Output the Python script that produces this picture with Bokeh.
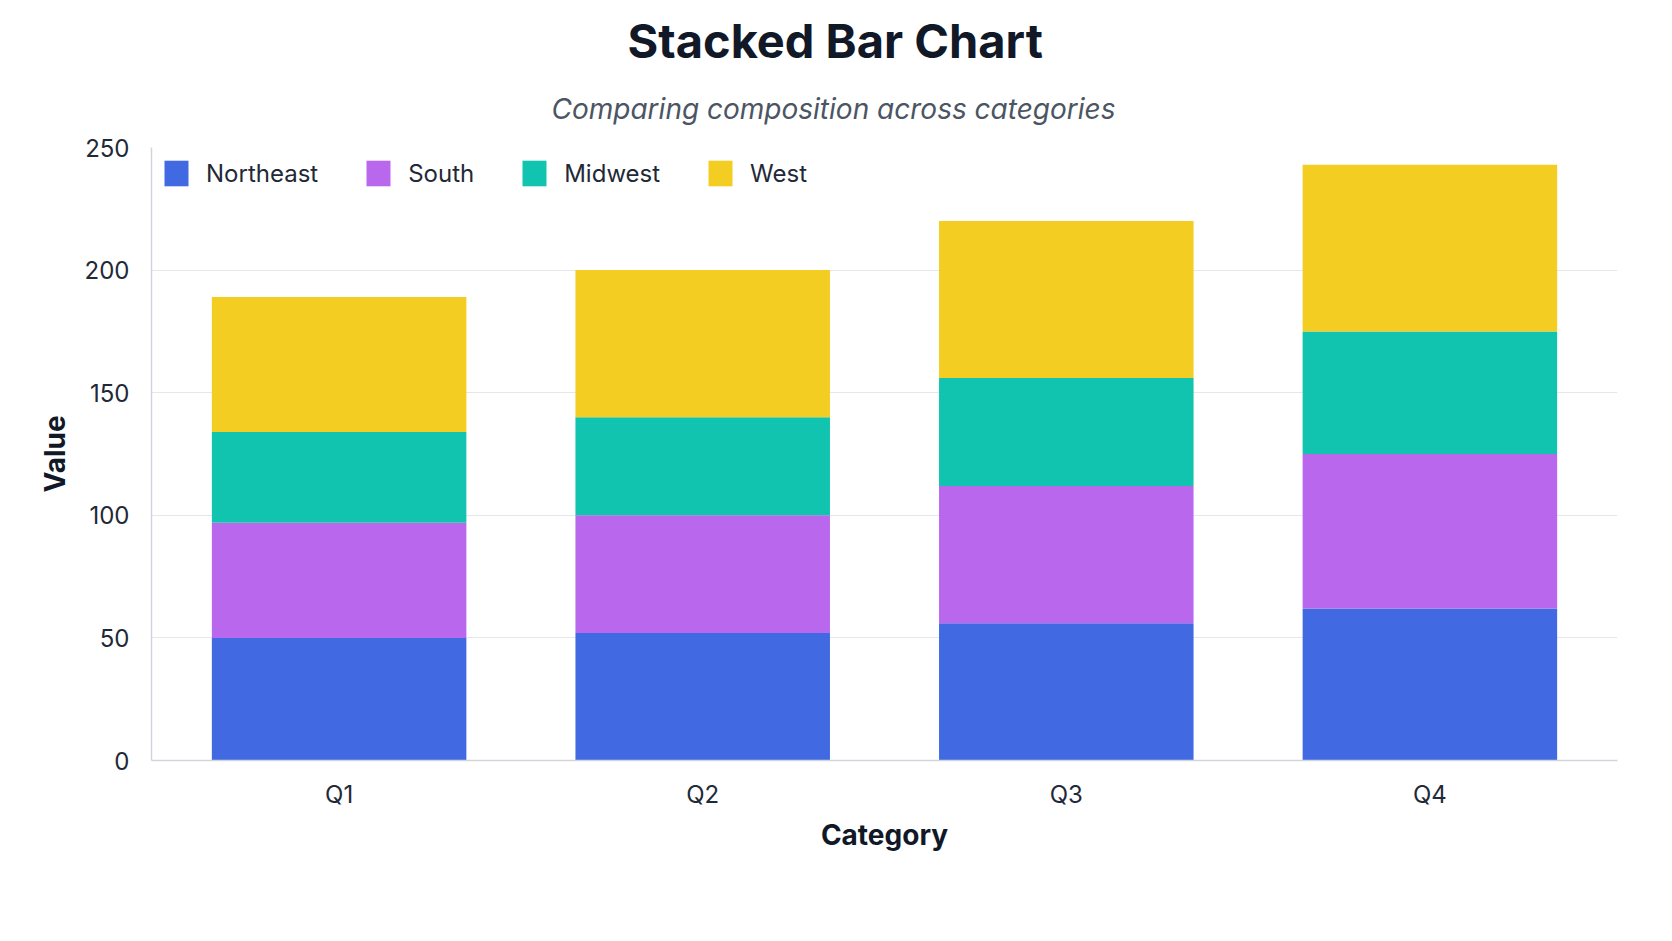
from bokeh.plotting import figure
from bokeh.models import Title, Legend, LegendItem, Range1d, FactorRange
from bokeh.embed import file_html
from bokeh.resources import INLINE

# Quarterly values per region (stacked bottom to top)
categories = ["Q1", "Q2", "Q3", "Q4"]
regions = ["Northeast", "South", "Midwest", "West"]
northeast = [50, 52, 56, 62]
south = [47, 48, 56, 63]
midwest = [37, 40, 44, 50]
west = [55, 60, 64, 68]
colors = ["#4169E1", "#B968EE", "#10C4B0", "#F4CD22"]

FONT = "Inter"
TEXT_DARK = "#111827"

data = {
    "cat": categories,
    "Northeast": northeast,
    "South": south,
    "Midwest": midwest,
    "West": west,
}

p = figure(
    x_range=FactorRange(*categories, range_padding=0.008),
    y_range=Range1d(0, 250),
    width=1672,
    height=941,
    output_backend="svg",
    toolbar_location=None,
    min_border_left=151,
    min_border_right=55,
    min_border_top=147,
    min_border_bottom=181,
)

renderers = p.vbar_stack(
    regions, x="cat", width=0.7, color=colors, line_color=None, source=data
)

# Titles: subtitle first so it sits nearest the plot
p.add_layout(Title(text="Comparing composition across categories", align="left",
                   text_font=FONT, text_font_size="28px", text_font_style="italic",
                   text_color="#4B5563", offset=400, standoff=43,
                   text_line_height=0.85), "above")
p.add_layout(Title(text="Stacked Bar Chart", align="left",
                   text_font=FONT, text_font_size="47px", text_font_style="bold",
                   text_color=TEXT_DARK, offset=476, standoff=0,
                   text_line_height=1.35), "above")

p.outline_line_color = None
p.background_fill_color = "white"
p.border_fill_color = "white"

# Grid
p.xgrid.grid_line_color = None
p.ygrid.grid_line_color = "#E5E7EB"
p.ygrid.grid_line_width = 1
p.yaxis.ticker = [0, 50, 100, 150, 200, 250]

# Axes
for ax in (p.xaxis, p.yaxis):
    ax.axis_line_color = "#D1D5DB"
    ax.axis_line_width = 1.5
    ax.major_tick_line_color = None
    ax.minor_tick_line_color = None
    ax.major_label_text_font = FONT
    ax.major_label_text_font_size = "24px"
    ax.major_label_text_color = "#1F2937"
    ax.axis_label_text_font = FONT
    ax.axis_label_text_font_size = "28px"
    ax.axis_label_text_font_style = "bold"
    ax.axis_label_text_color = TEXT_DARK

p.xaxis.axis_label = "Category"
p.yaxis.axis_label = "Value"
p.xaxis.major_label_standoff = 13
p.yaxis.major_label_standoff = 16
p.xaxis.axis_label_standoff = 6
p.yaxis.axis_label_standoff = 10

# Horizontal legend in the open space above the shorter bars
legend = Legend(
    items=[LegendItem(label=r, renderers=[rend]) for r, rend in zip(regions, renderers)],
    orientation="horizontal",
    location="top_left",
    label_text_font=FONT,
    label_text_font_size="24px",
    label_text_color="#1F2937",
    glyph_width=30,
    glyph_height=32,
    label_standoff=15,
    spacing=45,
    border_line_color=None,
    background_fill_color="white",
    background_fill_alpha=0.9,
)
p.add_layout(legend, "center")

open("out.html", "w").write(file_html(p, INLINE))
